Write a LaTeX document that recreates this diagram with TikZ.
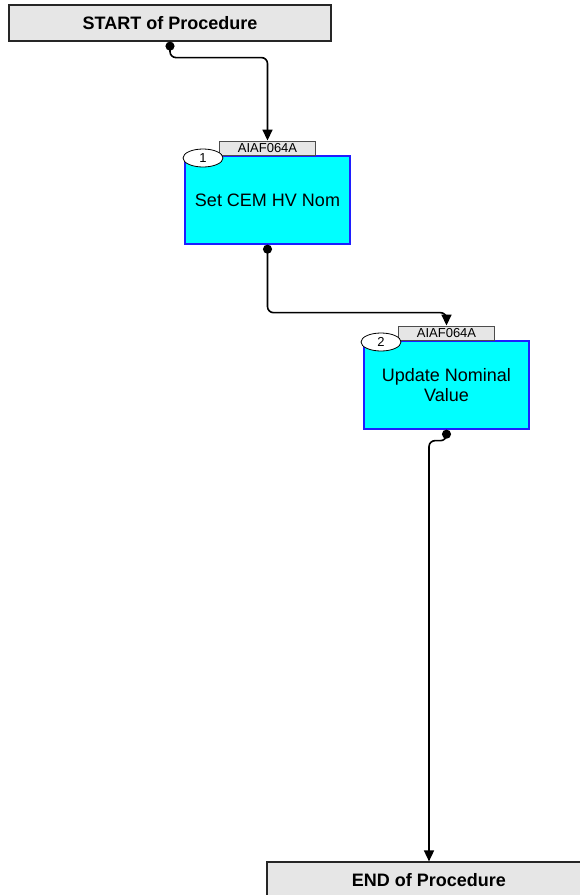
\documentclass[tikz,border=0pt]{standalone}
\usepackage{fontspec}
\setmainfont{Liberation Sans}
\usetikzlibrary{positioning,arrows.meta,shapes.geometric}
\definecolor{boxgray}{RGB}{230,230,230}
\definecolor{taskcyan}{RGB}{0,255,255}
\definecolor{taskblue}{RGB}{30,30,255}
\begin{document}
\begin{tikzpicture}[x=1pt, y=-1pt,
termnode/.style={rectangle, draw=black!85, fill=boxgray, line width=1.2pt, minimum width=322pt, minimum height=36pt, inner sep=0pt, font=\fontsize{18}{20}\selectfont\bfseries},
tasknode/.style={rectangle, draw=taskblue, fill=taskcyan, line width=1.3pt, minimum width=165pt, minimum height=88pt, inner sep=0pt, align=center, font=\fontsize{18}{20}\selectfont},
tagnode/.style={rectangle, draw=black!70, fill=boxgray, line width=0.8pt, minimum width=96pt, minimum height=14pt, inner sep=0pt, font=\fontsize{13}{13}\selectfont},
numnode/.style={ellipse, draw=black, fill=white, line width=0.8pt, minimum width=40pt, minimum height=18pt, inner sep=0pt, font=\fontsize{13}{13}\selectfont},
flow/.style={{Circle[length=9pt]}-{Triangle[length=11pt, width=10pt]}, line width=1.6pt, rounded corners=6pt},
]
    \useasboundingbox (0,0) rectangle (579,895);
    \node[termnode] (start) at (170,23) {START of Procedure};
    \node[tasknode] (task1) at (267.5,200) {Set CEM HV Nom};
    \node[tagnode] (tag1) [above=0pt of task1] {AIAF064A};
    \node[tasknode] (task2) at (446.5,385) {Update Nominal\\Value};
    \node[tagnode] (tag2) [above=0pt of task2] {AIAF064A};
    \node[termnode, minimum width=324pt] (end) at (429,880) {END of Procedure};
    \node[numnode] (num1) at (203,158) {1};
    \node[numnode] (num2) at (381,342) {2};
    \draw[flow] (start.south) -- ++(0,16) -| (tag1.north);
    \draw[flow] (task1.south) -- ++(0,68) -| (tag2.north);
    \draw[flow] (task2.south) -- ++(0,11) -| (end.north);
  \end{tikzpicture}
\end{document}
